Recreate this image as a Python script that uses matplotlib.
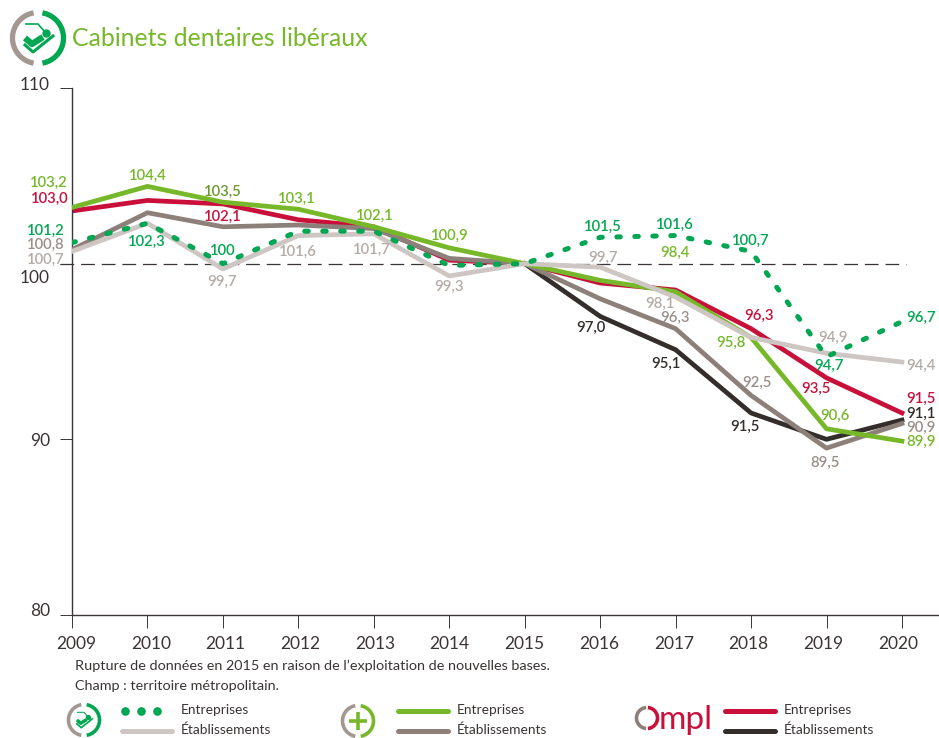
import numpy as np
import matplotlib
matplotlib.use("Agg")
import matplotlib.pyplot as plt
from matplotlib.transforms import ScaledTranslation

plt.rcParams['font.family'] = ['Lato', 'DejaVu Sans']

years = list(range(2009, 2021))
dent_ent = [101.2, 102.3, 100.0, 101.85, 101.85, 99.9, 100.0, 101.5, 101.6, 100.7, 94.7, 96.7]
dent_etab = [100.7, 102.3, 99.7, 101.6, 101.7, 99.3, 100.0, 99.8, 98.1, 95.8, 94.9, 94.4]
plus_ent = [103.2, 104.4, 103.5, 103.1, 102.1, 100.9, 100.0, 99.05, 98.4, 95.8, 90.6, 89.9]
plus_etab = [100.8, 102.9, 102.1, 102.2, 102.0, 100.3, 100.0, 98.0, 96.3, 92.5, 89.5, 90.9]
ompl_ent = [103.0, 103.6, 103.4, 102.5, 102.1, 100.2, 100.0, 98.9, 98.5, 96.3, 93.5, 91.5]
ompl_etab_years = [2015, 2016, 2017, 2018, 2019, 2020]
ompl_etab = [100.0, 97.0, 95.1, 91.5, 90.0, 91.1]

C_DOT, C_LIGHT, C_GREEN, C_BROWN, C_RED, C_BLACK = '#00A651', '#CDC6C2', '#76B82A', '#8D807A', '#C8103A', '#332D2C'
C_LLAB = '#B5ABA6'
C_BLAB = '#9A8F89'
C_TXT = '#3a3534'
W, H = 939, 738

labels = [
 ('103,2',2009,103.2,49,182,C_GREEN),('103,0',2009,103.0,50,198,C_RED),('101,2',2009,101.2,46,230,C_DOT),
 ('100,8',2009,100.8,46,244,C_BLAB),('100,7',2009,100.7,46,259,C_LLAB),
 ('104,4',2010,104.4,148,175,C_GREEN),('102,3',2010,102.3,147,241,C_DOT),
 ('103,5',2011,103.5,223,191,'#6A9A2A'),('102,1',2011,102.1,223,216,C_RED),('100',2011,100.0,223,250,C_DOT),('99,7',2011,99.7,222,281,C_LLAB),
 ('103,1',2012,103.1,297,198,C_GREEN),('101,6',2012,101.6,298,251,C_LLAB),
 ('102,1',2013,102.1,375,215,C_GREEN),('101,7',2013,101.7,372,249,C_LLAB),
 ('100,9',2014,100.9,450,235,C_GREEN),('99,3',2014,99.3,449,286,C_LLAB),
 ('101,5',2016,101.5,603,226,C_DOT),('99,7',2016,99.7,603,257,C_LLAB),('97,0',2016,97.0,591,327,C_BLACK),
 ('101,6',2017,101.6,675,224,C_DOT),('98,4',2017,98.4,675,279-27,C_GREEN),('98,1',2017,98.1,660,303,C_LLAB),
 ('96,3',2017,96.3,675,317,C_BLAB),('95,1',2017,95.1,666,363,C_BLACK),
 ('100,7',2018,100.7,751,240,C_DOT),('96,3',2018,96.3,759,315,C_RED),('95,8',2018,95.8,731,342,C_GREEN),
 ('92,5',2018,92.5,757,382,C_BLAB),('91,5',2018,91.5,745,426,C_BLACK),
 ('94,9',2019,94.9,833,337,C_LLAB),('94,7',2019,94.7,829,365,C_DOT),('93,5',2019,93.5,816,388,C_RED),
 ('90,6',2019,90.6,835,415,C_GREEN),('89,5',2019,89.5,825,462,C_BLAB),
 ('96,7',2020,96.7,921,317,C_DOT),('94,4',2020,94.4,921,365,C_LLAB),('91,5',2020,91.5,921,398,C_RED),
 ('91,1',2020,91.1,921,413,C_BLACK),('90,9',2020,90.9,921,427,C_BLAB),('89,9',2020,89.9,921,441,C_GREEN),
]

fig = plt.figure(figsize=(W/100, H/100), dpi=100)
L, R, T, B = 72, 939, 88, 615
ax = fig.add_axes([L/W, 1-B/H, (R-L)/W, (B-T)/H])
ax.set_xlim(2009, 2009+(R-L)/75.45)
ax.set_ylim(80, 110)
for s in ('top', 'right'):
    ax.spines[s].set_visible(False)
for s in ('left', 'bottom'):
    ax.spines[s].set_color(C_TXT)
    ax.spines[s].set_linewidth(1.0)
ax.set_xticks(years)
ax.set_yticks([80, 90, 100, 110])
ax.tick_params(axis='x', length=9.5, width=0.7, color=C_TXT, labelcolor=C_TXT, labelsize=12.5, pad=5.5)
ax.tick_params(axis='y', length=9, width=0.7, color=C_TXT, labelcolor=C_TXT, labelsize=12.5, pad=7)
for lab, dy in zip(ax.get_yticklabels(), [5, 0, -13, 4]):
    lab.set_transform(lab.get_transform() + ScaledTranslation(0, dy/100, fig.dpi_scale_trans))
for i, lab in enumerate(ax.get_xticklabels()):
    dx = 4 - 8*i/11
    lab.set_transform(lab.get_transform() + ScaledTranslation(dx/100, 0, fig.dpi_scale_trans))

ax.plot([2009-12/75.45, 2020.05], [100, 100], color=C_TXT, lw=0.9, dashes=(11, 5.5), clip_on=False, zorder=1)
lw = 3.4
ax.plot(years, ompl_ent, color=C_RED, lw=lw, zorder=2, solid_joinstyle='round')
ax.plot(ompl_etab_years, ompl_etab, color=C_BLACK, lw=lw, zorder=3, solid_joinstyle='round')
ax.plot(years, plus_etab, color=C_BROWN, lw=lw, zorder=3, solid_joinstyle='round')
ax.plot(years, plus_ent, color=C_GREEN, lw=lw, zorder=4, solid_joinstyle='round')
ax.plot(years, dent_etab, color=C_LIGHT, lw=lw, zorder=5, solid_joinstyle='round')
ax.plot(years, dent_ent, color=C_DOT, lw=3.6, zorder=6, dash_capstyle='round', dashes=(0.7, 2.9))

for txt, yr, val, px, py, col in labels:
    ax.annotate(txt, xy=(yr, val), xytext=(px, H-py-1), textcoords='figure pixels', color=col,
                fontsize=10.7, fontweight='semibold', ha='center', va='center', zorder=8, annotation_clip=False)

# overlay in pixel coordinates for title, notes, logos and legend
ov = fig.add_axes([0, 0, 1, 1], facecolor='none')
ov.set_xlim(0, W); ov.set_ylim(H, 0); ov.axis('off')

def arc(cx, cy, r, a0, a1, col, lw):
    t = np.radians(np.linspace(a0, a1, 60))
    ov.plot(cx+r*np.cos(t), cy-r*np.sin(t), color=col, lw=lw, solid_capstyle='butt')

def chair(cx, cy, s, col):
    ov.plot([cx-13*s, cx-6*s, cx+5*s], [cy, cy+6*s, cy-1*s], color=col, lw=4.5*s, solid_capstyle='butt')
    ov.plot([cx-13*s, cx-5*s, cx+15*s], [cy+7*s, cy+14*s, cy-2*s], color=col, lw=2.2*s)
    ov.plot([cx-12*s, cx, cx+7*s], [cy-14*s, cy-14*s, cy-6*s], color=col, lw=1.0*s+0.2)
    ov.plot([cx+8*s], [cy-5*s], 'o', color=col, ms=5*s)

arc(38, 38, 25.5, 100, 260, '#A39791', 3.8)
arc(38, 38, 25.5, 80, -80, C_DOT, 3.8)
chair(38, 38, 1.0, C_DOT)
ov.text(72, 39, 'Cabinets dentaires libéraux', color=C_GREEN, fontsize=17.9, va='center', ha='left')

ov.text(75, 666, 'Rupture de données en 2015 en raison de l’exploitation de nouvelles bases.', color=C_TXT, fontsize=10.4, va='center')
ov.text(75, 686, 'Champ : territoire métropolitain.', color=C_TXT, fontsize=10.4, va='center')

arc(84, 720, 15.5, 100, 260, '#A39791', 2.6)
arc(84, 720, 15.5, 80, -80, C_DOT, 2.6)
chair(84, 720, 0.55, C_DOT)
arc(358, 721, 15.5, 100, 260, '#A39791', 2.6)
arc(358, 721, 15.5, 80, -80, C_GREEN, 2.6)
ov.plot([358, 358], [712, 730], color=C_GREEN, lw=2.6, solid_capstyle='butt')
ov.plot([349, 367], [721, 721], color=C_GREEN, lw=2.6, solid_capstyle='butt')
arc(647, 718, 10.5, 95, 265, '#8D807A', 2.6)
arc(647, 718, 10.5, 85, -85, C_RED, 2.6)
ov.text(659, 729, 'mpl', color=C_RED, fontsize=24, va='baseline', ha='left')

ov.plot([125, 141, 157], [711, 711, 711], 'o', color=C_DOT, ms=5.2, ls='none')
for x0, x1, tx, c1, c2 in [(122, 172, 181, None, C_LIGHT), (398, 448, 457, C_GREEN, C_BROWN), (725, 775, 784, C_RED, C_BLACK)]:
    if c1:
        ov.plot([x0, x1], [711, 711], color=c1, lw=3.6, solid_capstyle='round')
    ov.plot([x0, x1], [731, 731], color=c2, lw=3.6, solid_capstyle='round')
    ov.text(tx, 710, 'Entreprises', color=C_TXT, fontsize=9.9, va='center')
    ov.text(tx, 730, 'Établissements', color=C_TXT, fontsize=9.9, va='center')

fig.savefig('out.png', dpi=100)
